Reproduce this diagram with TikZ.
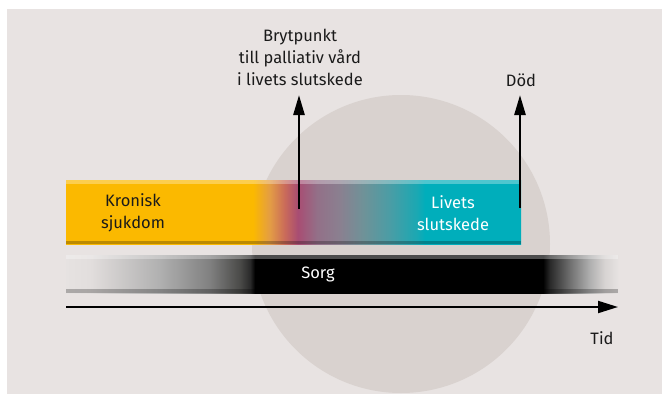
\documentclass[tikz,border=0pt]{standalone}
\usepackage{fontspec}
\setmainfont{Fira Sans}
\usetikzlibrary{arrows.meta}
\definecolor{bg}{HTML}{E8E3E2}
\definecolor{disc}{HTML}{D9D2CF}
\definecolor{yel}{HTML}{FBB900}
\definecolor{teal}{HTML}{00AEBB}
\definecolor{ink}{HTML}{1A1A1A}
\pgfdeclarehorizontalshading{lifebar}{100bp}{%
 color(0bp)=(yel); color(45.55bp)=(yel);
 color(47.42bp)=(rgb,255:red,227;green,156;blue,69);
 color(49.07bp)=(rgb,255:red,201;green,106;blue,90);
 color(50.49bp)=(rgb,255:red,168;green,77;blue,115);
 color(52.58bp)=(rgb,255:red,147;green,112;blue,136);
 color(55.11bp)=(rgb,255:red,138;green,128;blue,144);
 color(57.64bp)=(rgb,255:red,111;green,146;blue,152);
 color(60.6bp)=(rgb,255:red,74;green,157;blue,165);
 color(63.57bp)=(rgb,255:red,26;green,168;blue,179);
 color(64.45bp)=(teal); color(100bp)=(teal)}
\pgfdeclarehorizontalshading{sorgbar}{100bp}{%
 color(0bp)=(rgb,255:red,230;green,226;blue,225);
 color(25bp)=(rgb,255:red,230;green,226;blue,225);
 color(27.17bp)=(rgb,255:red,226;green,222;blue,221);
 color(33.51bp)=(rgb,255:red,176;green,176;blue,176);
 color(38.04bp)=(rgb,255:red,128;green,128;blue,128);
 color(40.76bp)=(rgb,255:red,74;green,74;blue,72);
 color(41.67bp)=(rgb,255:red,42;green,42;blue,42);
 color(42.12bp)=(black); color(68.21bp)=(black);
 color(68.84bp)=(rgb,255:red,42;green,42;blue,42);
 color(70.65bp)=(rgb,255:red,112;green,112;blue,112);
 color(72.46bp)=(rgb,255:red,176;green,176;blue,176);
 color(73.82bp)=(rgb,255:red,216;green,212;blue,211);
 color(75bp)=(rgb,255:red,230;green,226;blue,225);
 color(100bp)=(rgb,255:red,230;green,226;blue,225)}
\tikzset{
 lbl/.style={font=\fontsize{16.5}{22}\selectfont, text=ink, align=center, inner sep=0pt},
 wlbl/.style={lbl, text=white},
 uparrow/.style={draw=black, line width=2.6pt, -{Triangle[length=20pt,width=11pt]}},
 timearrow/.style={draw=black, line width=2pt, -{Triangle[length=20pt,width=12pt]}},
 hilite/.style={fill=white, fill opacity=0.3},
 shadow/.style={fill=black, fill opacity=0.25}
}
\begin{document}
\begin{tikzpicture}[x=1pt,y=-1pt]
\useasboundingbox (0,0) rectangle (662,394);
\fill[bg] (7,9) rectangle (662,394);
\fill[disc] (401,244) circle[radius=149];
% life bar
\shade[shading=lifebar] (66,180) rectangle (521,244);
\fill[hilite] (66,180) rectangle (521,184);
\fill[shadow] (66,240.5) rectangle (521,244);
% grief bar
\shade[shading=sorgbar] (66,255) rectangle (618,293);
\fill[hilite] (66,255) rectangle (618,259);
\fill[shadow] (66,289) rectangle (618,293);
% labels
\node[lbl] (kron) at (133,213) {Kronisk\\sjukdom};
\node[wlbl] (liv) at (453,213) {Livets\\slutskede};
\node[wlbl] (sorg) at (318,274) {Sorg};
\node[lbl] (bryt) at (300,57) {Brytpunkt\\till palliativ vård\\i livets slutskede};
\node[lbl] (dod) at (521,80) {Död};
\node[lbl] (tid) at (602,338) {Tid};
% connectors
\coordinate (b0) at (299,209);
\coordinate (b1) at (299,95);
\coordinate (d0) at (520,208);
\coordinate (d1) at (520,95);
\coordinate (t0) at (66,307);
\coordinate (t1) at (618,307);
\draw[uparrow] (b0) -- (b1);
\draw[uparrow] (d0) -- (d1);
\draw[timearrow] (t0) -- (t1);
\end{tikzpicture}
\end{document}
